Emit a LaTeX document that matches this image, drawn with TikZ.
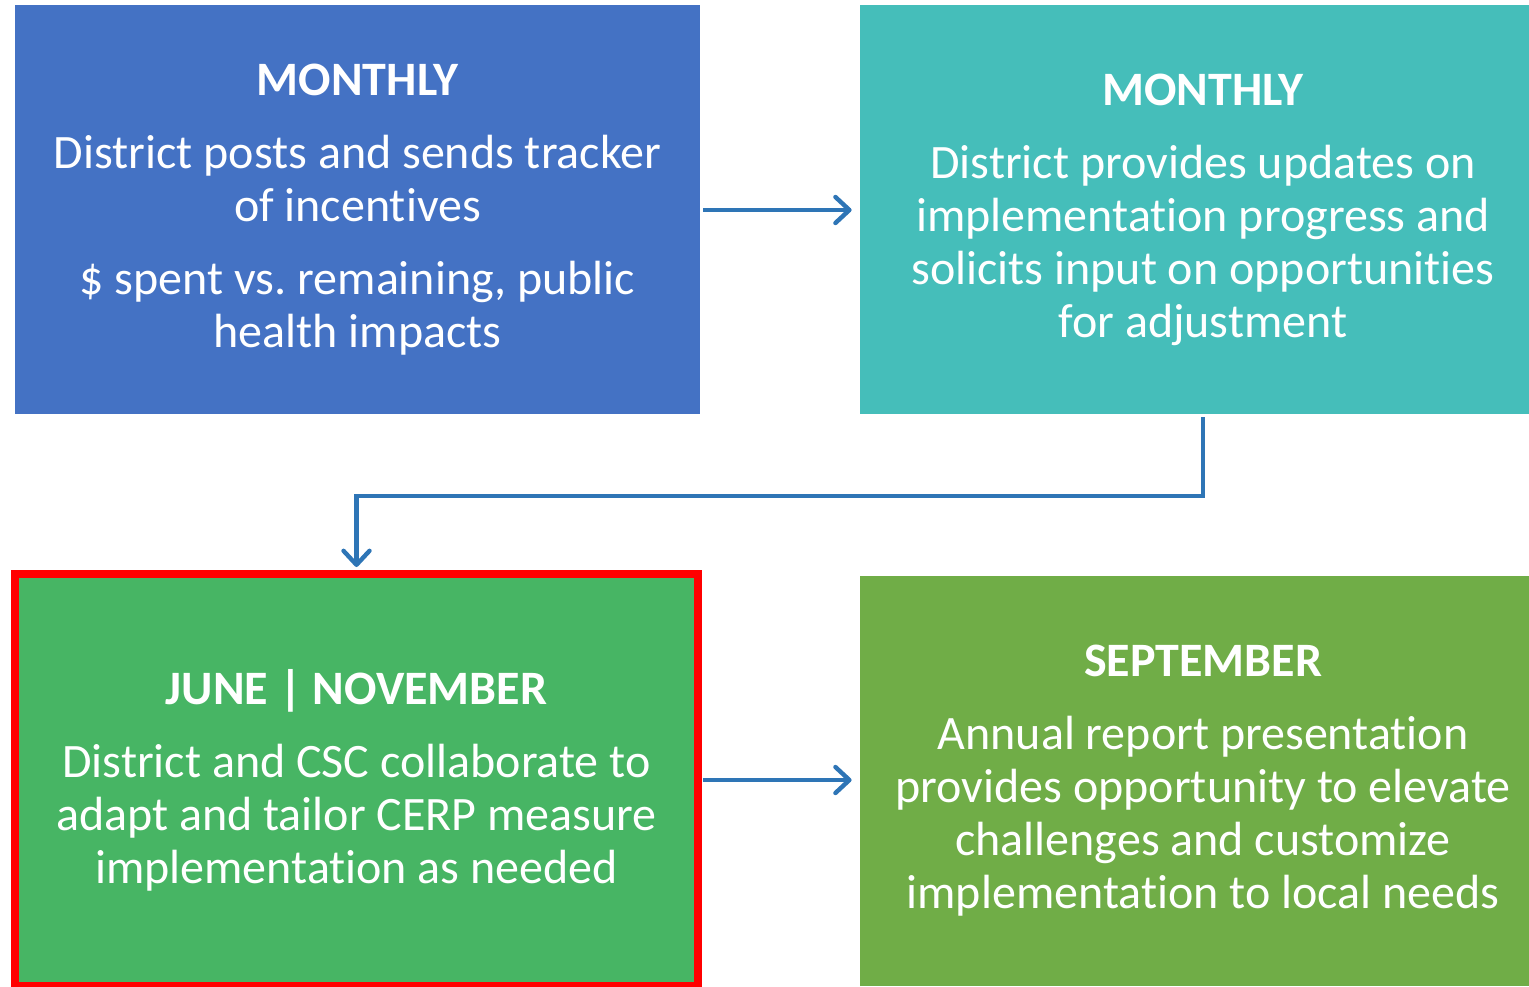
\documentclass[tikz,border=0pt]{standalone}
\usepackage{fontspec}
\setmainfont[Ligatures=NoCommon]{Carlito}
\usetikzlibrary{arrows.meta}
\definecolor{boxblue}{HTML}{4472C4}
\definecolor{boxteal}{HTML}{45BEBA}
\definecolor{boxgreen}{HTML}{47B564}
\definecolor{boxolive}{HTML}{70AD47}
\definecolor{flowblue}{HTML}{2E75B6}
\definecolor{markred}{HTML}{FF0000}
\begin{document}
\begin{tikzpicture}[x=0.5pt,y=-0.5pt,
  box/.style={rectangle,inner sep=0pt,align=center,text=white,
    font=\fontsize{24}{26.5}\selectfont},
  flow/.style={draw=flowblue,line width=2.2pt,
    -{Straight Barb[length=7pt,width=13pt,round]}}]
\useasboundingbox (0,0) rectangle (1529,986);
% top row
\node[box,fill=boxblue,minimum width=342.5pt,minimum height=204.5pt] (monthA) at (357.5,209.5)
  {{\bfseries MONTHLY}\\[10pt]
   District posts and sends tracker\\ of incentives\\[10pt]
   \$ spent vs.\ remaining, public\\ health impacts};
\node[box,fill=boxteal,minimum width=343pt,minimum height=204.5pt] (monthB) at (1203,209.5)
  {{\bfseries MONTHLY}\\[10pt]
   District provides updates on\\ implementation progress and\\
   solicits input on opportunities\\ for adjustment};
% bottom row
\node[box,fill=boxgreen,draw=markred,line width=4pt,minimum width=341.5pt,minimum height=206pt] (juneNov) at (356.5,780)
  {{\bfseries JUNE | NOVEMBER}\\[10pt]
   District and CSC collaborate to\\ adapt and tailor CERP measure\\
   implementation as needed};
\node[box,fill=boxolive,minimum width=343pt,minimum height=205pt] (sept) at (1203,781)
  {{\bfseries SEPTEMBER}\\[10pt]
   Annual report presentation\\ provides opportunity to elevate\\
   challenges and customize\\ implementation to local needs};
% connectors
\coordinate (elbow) at (1203,496);
\draw[flow,shorten <=1.5pt,shorten >=4pt] (monthA.east |- 0,210) -- (monthB.west |- 0,210);
\draw[flow,shorten <=1.5pt,shorten >=1.5pt] (monthB.south -| elbow) -- (elbow) -| (juneNov.north);
\draw[flow,shorten <=0.5pt,shorten >=4pt] (juneNov.east) -- (juneNov.east -| sept.west);
\end{tikzpicture}
\end{document}
